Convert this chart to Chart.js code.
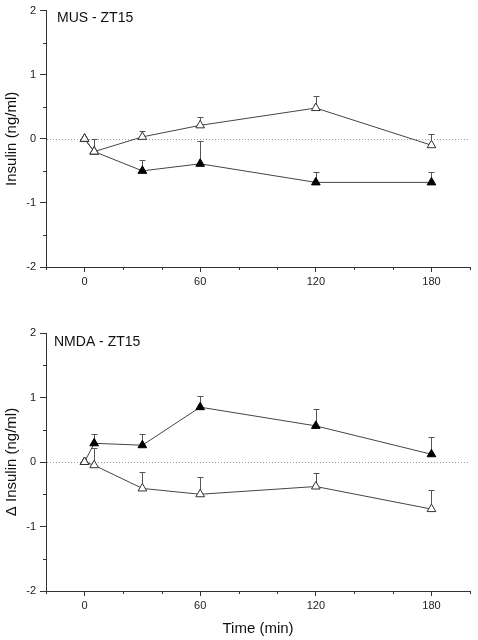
<!DOCTYPE html>
<html>
<head>
<meta charset="utf-8">
<script src="https://cdn.jsdelivr.net/npm/chart.js@4.4.1/dist/chart.umd.min.js"></script>
<style>
  html, body { margin: 0; padding: 0; background: #fff; }
  canvas { display: block; }
</style>
</head>
<body>
<canvas id="top" width="478" height="300"></canvas>
<canvas id="bottom" width="478" height="340"></canvas>
<script>
// time points (min)
const times = [0, 5, 30, 60, 120, 180];
const xLabeled = [0, 60, 120, 180];

// MUS - ZT15
const musOpen = [0, -0.2, 0.03, 0.21, 0.48, -0.1];
const musOpenErr = [0, 0.2, 0.09, 0.13, 0.18, 0.17];
const musFilled = [0, -0.2, -0.5, -0.39, -0.68, -0.68];
const musFilledErr = [0, 0, 0.17, 0.35, 0.16, 0.16];

// NMDA - ZT15
const nmdaOpen = [0, -0.05, -0.41, -0.5, -0.38, -0.73];
const nmdaOpenErr = [0, 0.27, 0.26, 0.27, 0.21, 0.29];
const nmdaFilled = [0, 0.29, 0.26, 0.85, 0.56, 0.12];
const nmdaFilledErr = [0, 0.15, 0.18, 0.18, 0.26, 0.26];

Chart.defaults.font.family = "'Liberation Sans', Arial, sans-serif";
Chart.defaults.color = '#222';

const LINE = '#444';
const AXIS = '#333';

// zero line, upper error bars, minor ticks, panel label
const extras = {
  id: 'extras',
  beforeDatasetsDraw(chart) {
    const { ctx, chartArea: a, scales: { x, y } } = chart;
    ctx.save();
    const y0 = Math.round(y.getPixelForValue(0)) + 0.5;
    ctx.strokeStyle = '#999';
    ctx.lineWidth = 1;
    ctx.setLineDash([1, 2]);
    ctx.beginPath();
    ctx.moveTo(a.left + 1, y0);
    ctx.lineTo(a.right, y0);
    ctx.stroke();
    ctx.setLineDash([]);

    ctx.strokeStyle = '#555';
    chart.data.datasets.forEach(ds => {
      ds.data.forEach((p, i) => {
        const e = ds.errUp[i];
        if (!e) return;
        const px = Math.round(x.getPixelForValue(p.x)) + 0.5;
        const py = y.getPixelForValue(p.y);
        const pt = Math.round(y.getPixelForValue(p.y + e)) + 0.5;
        ctx.beginPath();
        ctx.moveTo(px, py);
        ctx.lineTo(px, pt);
        ctx.moveTo(px - 3, pt);
        ctx.lineTo(px + 3, pt);
        ctx.stroke();
      });
    });
    ctx.restore();
  },
  afterDraw(chart, args, opts) {
    const { ctx, chartArea: a, scales: { x, y } } = chart;
    ctx.save();
    ctx.strokeStyle = AXIS;
    ctx.lineWidth = 1;
    ctx.beginPath();
    y.ticks.forEach(t => {
      if (Number.isInteger(t.value)) return;
      const py = Math.round(y.getPixelForValue(t.value)) + 0.5;
      ctx.moveTo(a.left - 3, py);
      ctx.lineTo(a.left, py);
    });
    x.ticks.forEach(t => {
      if (xLabeled.includes(t.value)) return;
      const px = Math.round(x.getPixelForValue(t.value)) + 0.5;
      ctx.moveTo(px, a.bottom);
      ctx.lineTo(px, a.bottom + 3);
    });
    ctx.stroke();

    ctx.fillStyle = '#111';
    ctx.font = "14px 'Liberation Sans', Arial, sans-serif";
    ctx.textBaseline = 'middle';
    ctx.textAlign = 'left';
    ctx.fillText(opts.text, a.left + opts.dx, a.top + opts.dy);
    ctx.restore();
  }
};

function series(vals) {
  return times.map((t, i) => ({ x: t, y: vals[i] }));
}

function makeChart(id, label, open, openErr, filled, filledErr, yTitle, xTitle, topPad, xHeight) {
  return new Chart(document.getElementById(id), {
    type: 'line',
    data: {
      datasets: [
        {
          data: series(open), errUp: openErr,
          borderColor: LINE, borderWidth: 1,
          pointStyle: 'triangle', pointRadius: 5,
          pointBackgroundColor: '#fff', pointBorderColor: '#333', pointBorderWidth: 1,
          tension: 0
        },
        {
          data: series(filled), errUp: filledErr,
          borderColor: LINE, borderWidth: 1,
          pointStyle: 'triangle', pointRadius: 5,
          pointBackgroundColor: '#000', pointBorderColor: '#000', pointBorderWidth: 1,
          tension: 0
        }
      ]
    },
    options: {
      responsive: false,
      animation: false,
      events: [],
      layout: { padding: { top: topPad, right: 8, left: 0, bottom: 0 } },
      plugins: {
        legend: { display: false },
        tooltip: { enabled: false },
        extras: label
      },
      scales: {
        x: {
          type: 'linear', min: -20, max: 200,
          afterFit(s) { s.height = xHeight; },
          border: { color: AXIS, width: 1 },
          grid: {
            drawOnChartArea: false, drawTicks: true, tickLength: 5,
            tickColor: c => xLabeled.includes(c.tick.value) ? AXIS : 'rgba(0,0,0,0)'
          },
          ticks: {
            stepSize: 20, autoSkip: false, maxRotation: 0, padding: 3,
            font: { size: 11 },
            callback: v => xLabeled.includes(v) ? String(v) : ''
          },
          title: {
            display: !!xTitle, text: xTitle || '',
            font: { size: 15 }, color: '#111',
            padding: { top: 0, bottom: 2 }
          }
        },
        y: {
          type: 'linear', min: -2, max: 2,
          afterFit(s) { s.width = 46; },
          border: { color: AXIS, width: 1 },
          grid: {
            drawOnChartArea: false, drawTicks: true, tickLength: 6,
            tickColor: c => Number.isInteger(c.tick.value) ? AXIS : 'rgba(0,0,0,0)'
          },
          ticks: {
            stepSize: 0.5, autoSkip: false, padding: 4,
            font: { size: 11 },
            callback: v => Number.isInteger(v) ? String(v) : ''
          },
          title: {
            display: true, text: yTitle,
            font: { size: 15 }, color: '#111',
            padding: { top: 3, bottom: 0 }
          }
        }
      }
    },
    plugins: [extras]
  });
}

makeChart('top', { text: 'MUS - ZT15', dx: 11, dy: 8 },
  musOpen, musOpenErr, musFilled, musFilledErr,
  'Insulin (ng/ml)', '', 9, 33);

makeChart('bottom', { text: 'NMDA - ZT15', dx: 8, dy: 9 },
  nmdaOpen, nmdaOpenErr, nmdaFilled, nmdaFilledErr,
  'Δ Insulin (ng/ml)', 'Time (min)', 33, 49);
</script>
</body>
</html>
